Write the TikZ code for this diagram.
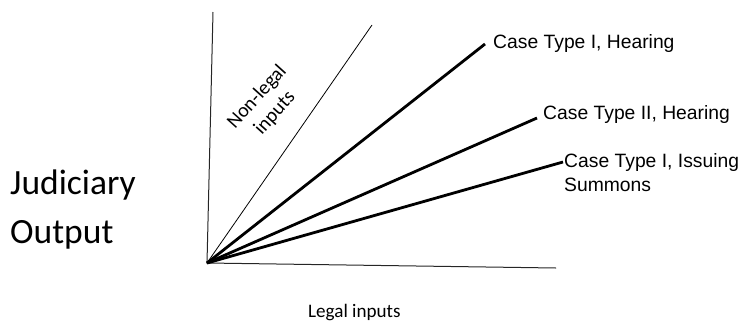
\documentclass[tikz,border=0pt]{standalone}
\usepackage{fontspec}
\setmainfont{Carlito}
\newfontfamily\arialfont{Liberation Sans}
\begin{document}
\begin{tikzpicture}[x=1pt,y=-1pt,
  axis/.style={line width=1pt,draw=black!85},
  thinray/.style={line width=0.8pt,draw=black},
  thickray/.style={line width=2.8pt,draw=black},
  caselabel/.style={inner sep=0pt,anchor=base west,align=left,font=\arialfont\fontsize{19.3}{24}\selectfont},
  axislabel/.style={inner sep=0pt,font=\fontsize{19.1}{23}\selectfont},
  biglabel/.style={inner sep=0pt,anchor=base west,align=left,font=\fontsize{35.5}{49}\selectfont}]
\useasboundingbox (0,0) rectangle (743,324);
% origin and axis ends
\coordinate (O) at (207,263);
\coordinate (ytop) at (213,12);
\coordinate (xend) at (556,268);
\coordinate (nl) at (372,25);
\coordinate (e1) at (485,44);
\coordinate (e2) at (537,118);
\coordinate (e3) at (563,162);
% axes
\draw[axis] (ytop) -- (O) -- (xend);
% rays
\draw[thinray] (O) -- (nl);
\draw[thickray] (O) -- (e1);
\draw[thickray] (O) -- (e2);
\draw[thickray] (O) -- (e3);
% labels (base anchor of a two-line node sits on its last line)
\node[caselabel] (l1) at (493,48) {Case Type I, Hearing};
\node[caselabel] (l2) at (543,119) {Case Type II, Hearing};
\node[caselabel] (l3) at (564,191) {Case Type I, Issuing\\Summons};
\node[axislabel,font=\fontsize{20}{24}\selectfont,rotate=48,align=center] (nonlegal) at (266,105) {Non-legal\\inputs};
\node[axislabel,anchor=base west] (legal) at (308,317) {Legal inputs};
\node[biglabel] (judiciary) at (10,243) {Judiciary\\Output};
\end{tikzpicture}
\end{document}
